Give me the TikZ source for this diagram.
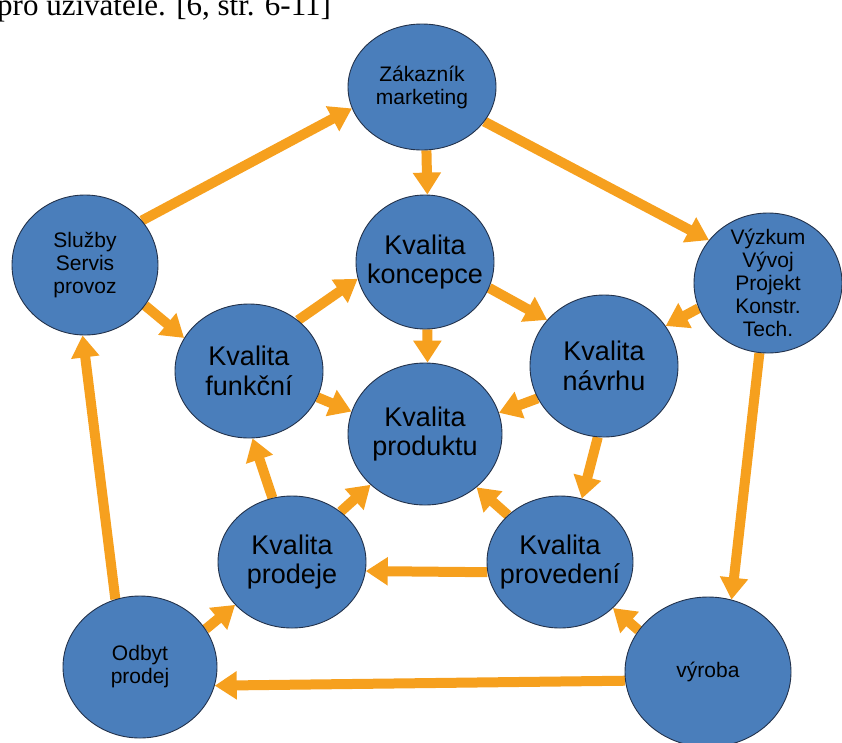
\documentclass[tikz,border=0pt]{standalone}
\usepackage{fontspec}
\setmainfont{Liberation Sans}
\newfontfamily\capserif{Liberation Serif}
\usetikzlibrary{shapes.geometric,arrows.meta,backgrounds}
\definecolor{bubfill}{RGB}{74,126,187}
\definecolor{bubedge}{RGB}{35,50,75}
\definecolor{arrc}{RGB}{246,160,30}
\tikzset{
  bub/.style={ellipse, draw=bubedge, line width=0.9pt, fill=bubfill, inner sep=0pt},
  bigtxt/.style={font=\fontsize{27}{29.5}\selectfont, align=center, text=black, inner sep=0pt},
  smalltxt/.style={font=\fontsize{21}{23}\selectfont, align=center, text=black, inner sep=0pt},
  arr/.style={draw=arrc, line width=10pt, -{Triangle[width=27pt,length=22pt]}},
}
\begin{document}
\begin{tikzpicture}[x=1pt,y=-1pt]
\useasboundingbox (0,0) rectangle (842,742);
\clip (0,0) rectangle (842,742);
\node[anchor=base west, inner sep=0pt, font=\capserif\fontsize{31}{33}\selectfont] (cap) at (-3,15) {pro uživatele. [6, str. 6-11]};
% outer ring
\node[bub, minimum width=148pt, minimum height=126pt, label={[smalltxt]center:{Zákazník\\marketing}}] (zak) at (422,87) {};
\node[bub, minimum width=146pt, minimum height=140pt, label={[smalltxt]center:{Služby\\Servis\\provoz}}] (sluz) at (85,265) {};
\node[bub, minimum width=148pt, minimum height=140pt, label={[smalltxt]center:{Výzkum\\Vývoj\\Projekt\\Konstr.\\Tech.}}] (vyz) at (768,283) {};
\node[bub, minimum width=154pt, minimum height=142pt, label={[smalltxt]center:{Odbyt\\prodej}}] (odb) at (140,667) {};
\node[bub, minimum width=166pt, minimum height=150pt, label={[smalltxt]center:{výroba}}] (vyr) at (708,672) {};
% inner ring
\node[bub, minimum width=138pt, minimum height=134pt, label={[bigtxt]center:{Kvalita\\koncepce}}] (kon) at (425,262) {};
\node[bub, minimum width=148pt, minimum height=134pt, label={[bigtxt]center:{Kvalita\\funkční}}] (fun) at (249,371) {};
\node[bub, minimum width=148pt, minimum height=142pt, label={[bigtxt]center:{Kvalita\\návrhu}}] (nav) at (604,366) {};
\node[bub, minimum width=154pt, minimum height=142pt, label={[bigtxt]center:{Kvalita\\produktu}}] (pro) at (425,434) {};
\node[bub, minimum width=148pt, minimum height=132pt, label={[bigtxt]center:{Kvalita\\prodeje}}] (prd) at (292,562) {};
\node[bub, minimum width=146pt, minimum height=132pt, label={[bigtxt]center:{Kvalita\\provedení}}] (prv) at (560,562) {};
\begin{scope}[on background layer]
\draw[arr] (zak.-86) -- (kon.88);
\draw[arr] (zak.-29) -- (vyz.144);
\draw[arr] (sluz.38) -- (zak.-163);
\draw[arr] (sluz.-34) -- (fun.153);
\draw[arr] (vyz.-160) -- (nav.33);
\draw[arr] (vyz.-97) -- (vyr.72);
\draw[arr] (vyr.-174) -- (odb.-14);
\draw[arr] (vyr.149) -- (prv.-41);
\draw[arr] (odb.110) -- (sluz.-92);
\draw[arr] (odb.30) -- (prd.-143);
\draw[arr] (kon.-22) -- (nav.141);
\draw[arr] (kon.-88) -- (pro.88);
\draw[arr] (fun.46) -- (kon.-166);
\draw[arr] (fun.-21) -- (pro.163);
\draw[arr] (nav.-154) -- (pro.16);
\draw[arr] (nav.-95) -- (prv.71);
\draw[arr] (prd.46) -- (pro.-137);
\draw[arr] (prd.107) -- (fun.-87);
\draw[arr] (prv.138) -- (pro.-46);
\draw[arr] (prv.-172) -- (prd.-7.5);
\end{scope}
\end{tikzpicture}
\end{document}
